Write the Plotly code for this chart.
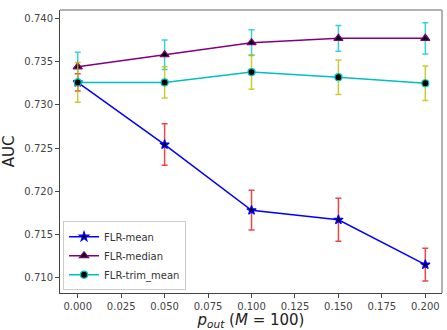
import plotly.graph_objects as go

p_out = [0.0, 0.05, 0.10, 0.15, 0.20]

mean_auc = [0.7326, 0.7254, 0.7178, 0.7167, 0.7115]
mean_err = [0.0010, 0.0024, 0.0023, 0.0025, 0.0019]

median_auc = [0.7344, 0.7358, 0.7372, 0.7377, 0.7377]
median_err = [0.0017, 0.0017, 0.0015, 0.0015, 0.0018]

trim_auc = [0.7326, 0.7326, 0.7338, 0.7332, 0.7325]
trim_err = [0.0023, 0.0018, 0.0020, 0.0020, 0.0020]

x_ticks = [0.0, 0.025, 0.05, 0.075, 0.1, 0.125, 0.15, 0.175, 0.2]
y_ticks = [0.710, 0.715, 0.720, 0.725, 0.730, 0.735, 0.740]

fig = go.Figure()

series = [
    ("FLR-mean", mean_auc, mean_err, "#0000ff", "rgba(230,40,40,0.85)", "star", 7),
    ("FLR-median", median_auc, median_err, "#800080", "rgba(0,200,210,0.8)", "triangle-up", 8),
    ("FLR-trim_mean", trim_auc, trim_err, "#00bfbf", "rgba(190,190,0,0.8)", "circle", 7),
]

for name, y, e, lc, ec, sym, ms in series:
    fig.add_trace(go.Scatter(
        x=p_out, y=y, name=name, mode="lines+markers",
        line=dict(color=lc, width=1.5),
        marker=dict(symbol=sym, size=ms, color="black", line=dict(color=lc, width=1.2)),
        error_y=dict(type="data", array=e, visible=True, color=ec, thickness=1.5, width=3),
    ))

fig.update_layout(
    width=447, height=330,
    margin=dict(l=60, r=5, t=10, b=37),
    paper_bgcolor="white", plot_bgcolor="white",
    font=dict(family="DejaVu Sans", color="#333333", size=10),
    showlegend=True,
    legend=dict(
        x=0.008, y=0.01, xanchor="left", yanchor="bottom",
        bgcolor="rgba(255,255,255,0.8)", bordercolor="#cccccc", borderwidth=1,
        font=dict(size=10, color="#333333"), itemwidth=30, tracegroupgap=0,
    ),
    xaxis=dict(
        range=[-0.0102, 0.2096], tickvals=x_ticks,
        ticktext=[f"{v:.3f}" for v in x_ticks],
        showgrid=False, zeroline=False, automargin=False,
        showline=True, linecolor="#444444", linewidth=1,
        ticks="outside", ticklen=4, tickcolor="#444444",
        tickfont=dict(size=10, color="#444444"),
        title=dict(text="<i>p</i><sub><i>out</i></sub> (<i>M</i> = 100)", font=dict(size=15, color="#222222"), standoff=4),
    ),
    yaxis=dict(
        range=[0.70822, 0.74098], tickvals=y_ticks,
        ticktext=[f"{v:.3f}" for v in y_ticks],
        showgrid=False, zeroline=False, automargin=False,
        showline=True, linecolor="#444444", linewidth=1,
        ticks="outside", ticklen=4, tickcolor="#444444",
        tickfont=dict(size=10, color="#444444"),
        title=dict(text="AUC", font=dict(size=15, color="#222222"), standoff=6),
    ),
)

fig.add_shape(type="line", xref="paper", yref="paper", x0=0, x1=1, y0=1, y1=1,
              line=dict(color="#999999", width=1.5))
fig.add_shape(type="line", xref="paper", yref="paper", x0=1, x1=1, y0=0, y1=1,
              line=dict(color="#999999", width=1.5))

fig.write_html("out.html")
